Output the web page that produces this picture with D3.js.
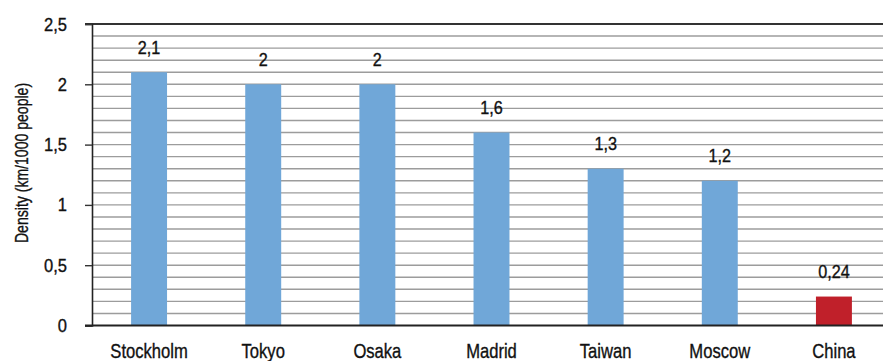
<!DOCTYPE html>
<html>
<head>
<meta charset="utf-8">
<script src="https://cdn.jsdelivr.net/npm/d3@7"></script>
<style>
  html, body { margin: 0; padding: 0; background: #fff; }
  svg { display: block; }
  text { font-family: "Liberation Sans", Arial, sans-serif; fill: #111; stroke: #111; stroke-width: 0.35px; }
</style>
</head>
<body>
<svg id="chart" width="883" height="361"></svg>
<script>
// Road network density by city / country
const cities = ["Stockholm", "Tokyo", "Osaka", "Madrid", "Taiwan", "Moscow", "China"];
const density = [2.1, 2, 2, 1.6, 1.3, 1.2, 0.24];
const highlighted = ["China"];
const yTicks = [0, 0.5, 1, 1.5, 2, 2.5];
const yTitle = "Density (km/1000 people)";

const fmt = v => String(v).replace(".", ",");

const svg = d3.select("#chart");
const plot = { left: 92, top: 24, bottom: 325.5, right: 891 };

const x = d3.scaleBand()
  .domain(cities)
  .range([plot.left, plot.right])
  .padding(0);
const barW = x.bandwidth() * 0.315;
const cx = d => x(d) + x.bandwidth() / 2;

const y = d3.scaleLinear()
  .domain([0, 2.5])
  .range([plot.bottom, plot.top]);

// condensed-looking text: a sans face squeezed horizontally
function label(parent, tx, ty, str, size, sx, anchor, rot) {
  return parent.append("text")
    .attr("transform", `translate(${tx},${ty})${rot ? ` rotate(${rot})` : ""} scale(${sx},1)`)
    .attr("text-anchor", anchor)
    .attr("font-size", size)
    .text(str);
}

// minor horizontal grid every 0.1
const minor = d3.range(1, 25).map(i => i / 10);
svg.append("g")
  .selectAll("line")
  .data(minor)
  .join("line")
  .attr("x1", plot.left).attr("x2", 883)
  .attr("y1", d => y(d)).attr("y2", d => y(d))
  .attr("stroke", "#9c9c9c")
  .attr("stroke-width", 1.4);

// top border at 2.5
svg.append("line")
  .attr("x1", plot.left - 7).attr("x2", 883)
  .attr("y1", y(2.5)).attr("y2", y(2.5))
  .attr("stroke", "#333").attr("stroke-width", 1.8);

// bars
svg.append("g")
  .selectAll("rect")
  .data(cities)
  .join("rect")
  .attr("x", d => cx(d) - barW / 2)
  .attr("width", barW)
  .attr("y", (d, i) => y(density[i]))
  .attr("height", (d, i) => y(0) - y(density[i]))
  .attr("fill", d => highlighted.includes(d) ? "#c0202a" : "#70a7d8");

// value labels
const gv = svg.append("g");
cities.forEach((c, i) => label(gv, cx(c), y(density[i]) - 18.5, fmt(density[i]), 18, 0.9, "middle"));

// y axis (line and ticks from d3.axisLeft, labels drawn condensed)
const yAxis = d3.axisLeft(y)
  .tickValues(yTicks)
  .tickSize(7)
  .tickFormat("");
const gy = svg.append("g")
  .attr("transform", `translate(${plot.left},0)`)
  .call(yAxis);
gy.select(".domain").attr("stroke", "#222").attr("stroke-width", 1.6);
gy.selectAll(".tick line").attr("stroke", "#333").attr("stroke-width", 1.4);
const gyl = svg.append("g");
yTicks.forEach(t => label(gyl, 67, y(t) + 6.5, fmt(t), 18, 0.92, "end"));

// x axis baseline
svg.append("line")
  .attr("x1", plot.left - 7).attr("x2", 883)
  .attr("y1", plot.bottom).attr("y2", plot.bottom)
  .attr("stroke", "#222").attr("stroke-width", 1.8);

// category labels
const gx = svg.append("g");
cities.forEach(c => label(gx, cx(c), 357.5, c, 20, 0.83, "middle"));

// y title
label(svg, 28, 163, yTitle, 19, 0.74, "middle", -90);
</script>
</body>
</html>
